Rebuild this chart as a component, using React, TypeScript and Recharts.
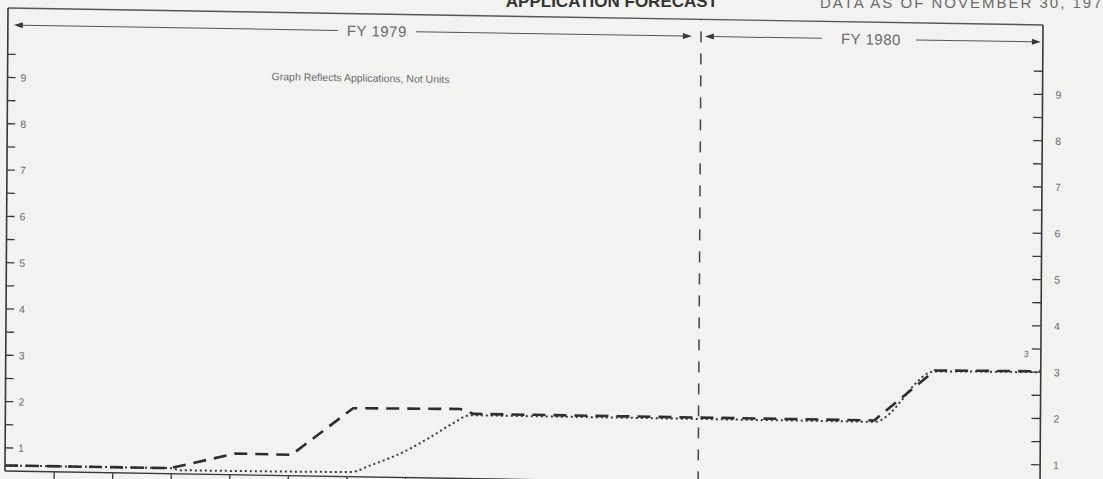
import React from 'react';
import { ComposedChart, Line, XAxis, YAxis, ReferenceLine } from 'recharts';

// Month index (0 = first bottom tick mark, 11 = start of FY 1980)
const dashedMonths = [-0.84, 1.98, 3.1, 4.05, 5.1, 6.93, 7.16, 14.0, 15.03, 16.84];
const dashedValues = [0.62, 0.62, 0.96, 0.95, 1.98, 2.0, 1.9, 1.9, 3.0, 3.02];

const dottedMonths = [-0.84, 1.98, 2.15, 5.06, 5.4, 5.96, 6.42, 6.81, 7.1, 14.0, 15.03, 16.84];
const dottedValues = [0.62, 0.62, 0.58, 0.6, 0.75, 1.05, 1.38, 1.69, 1.87, 1.87, 2.98, 3.0];

const monthTicks = [0, 1, 2, 3, 4, 5, 6, 7, 8, 9, 10, 11, 12, 13, 14, 15, 16];
const valueTicks = [1, 1.5, 2, 2.5, 3, 3.5, 4, 4.5, 5, 5.5, 6, 6.5, 7, 7.5, 8, 8.5, 9, 9.5];
const xDomain = [-0.84, 16.84];
const yDomain = [0.5, 10.5];
const fiscalBoundary = 11;

const fyLabels = ['FY 1979', 'FY 1980'];
const noteText = 'Graph Reflects Applications, Not Units';
const titleText = 'APPLICATION FORECAST';
const dateText = 'DATA AS OF NOVEMBER 30, 1978';

const dashedData = dashedMonths.map((m, i) => ({ m, v: dashedValues[i] }));
const dottedData = dottedMonths.map((m, i) => ({ m, v: dottedValues[i] }));

const FONT = '"Liberation Sans", Arial, Helvetica, sans-serif';
const INK = '#383838';
const TEXT = '#6a6a6a';

const LeftTick = (props: any) => {
  const { x, y, payload } = props;
  const v = payload.value;
  const major = Number.isInteger(v);
  return (
    <g>
      <line x1={x} y1={y} x2={x + 8} y2={y} stroke={INK} strokeWidth={1.3} />
      {major && (
        <text x={x + 13} y={y} dy="0.36em" fontSize={10.5} fill={TEXT} fontFamily={FONT}>
          {v}
        </text>
      )}
    </g>
  );
};

const RightTick = (props: any) => {
  const { x, y, payload } = props;
  const v = payload.value;
  const major = Number.isInteger(v);
  return (
    <g>
      <line x1={x - 9} y1={y} x2={x} y2={y} stroke={INK} strokeWidth={1.3} />
      {major && (
        <text x={x + 13} y={y} dy="0.36em" fontSize={10.5} fill={TEXT} fontFamily={FONT}>
          {v}
        </text>
      )}
    </g>
  );
};

const Arrow = ({ tipX, y, dir }: { tipX: number; y: number; dir: number }) => (
  <polygon
    points={`${tipX},${y} ${tipX - dir * 9},${y - 3} ${tipX - dir * 9},${y + 3}`}
    fill={INK}
  />
);

const FyOverlay = () => {
  const y = 25;
  return (
    <svg
      width={1103}
      height={479}
      style={{ position: 'absolute', left: 0, top: 0, pointerEvents: 'none' }}
    >
      {/* FY 1979 */}
      <Arrow tipX={14} y={y} dir={-1} />
      <line x1={22} y1={y} x2={338} y2={y} stroke="#555" strokeWidth={1} />
      <text x={377} y={y} dy="0.36em" textAnchor="middle" fontSize={15} fill={TEXT} fontFamily={FONT} letterSpacing={0.5}>
        {fyLabels[0]}
      </text>
      <line x1={416} y1={y} x2={684} y2={y} stroke="#555" strokeWidth={1} />
      <Arrow tipX={692} y={y} dir={1} />
      {/* FY 1980 */}
      <Arrow tipX={705} y={y} dir={-1} />
      <line x1={713} y1={y} x2={822} y2={y} stroke="#555" strokeWidth={1} />
      <text x={871} y={y} dy="0.36em" textAnchor="middle" fontSize={15} fill={TEXT} fontFamily={FONT} letterSpacing={0.5}>
        {fyLabels[1]}
      </text>
      <line x1={916} y1={y} x2={1033} y2={y} stroke="#555" strokeWidth={1} />
      <Arrow tipX={1041} y={y} dir={1} />
      {/* note */}
      <text x={272} y={72} dy="0.36em" fontSize={10.5} fill={TEXT} fontFamily={FONT}>
        {noteText}
      </text>
      <text x={1026} y={337} dy="0.36em" fontSize={9} fill={TEXT} fontFamily={FONT}>
        3
      </text>
    </svg>
  );
};

export default function App() {
  return (
    <div
      style={{
        position: 'absolute',
        left: 0,
        top: 0,
        width: 1103,
        height: 479,
        overflow: 'hidden',
        background: '#f2f2f0',
      }}
    >
      <div
        style={{
          position: 'absolute',
          left: 0,
          top: 0,
          width: 1103,
          height: 479,
          transform: 'matrix(1, 0.0164, -0.0065, 1, 0, 0)',
          transformOrigin: '8px 8px',
        }}
      >
        <ComposedChart width={1103} height={479} margin={{ top: 8, right: 0, bottom: 0, left: 0 }}>
          <XAxis
            dataKey="m"
            type="number"
            domain={xDomain}
            allowDataOverflow
            ticks={monthTicks}
            interval={0}
            height={8}
            tickSize={9}
            tickFormatter={() => ''}
            axisLine={{ stroke: INK, strokeWidth: 1.4 }}
            tickLine={{ stroke: INK, strokeWidth: 1.3 }}
          />
          <YAxis
            yAxisId="left"
            orientation="left"
            type="number"
            domain={yDomain}
            allowDataOverflow
            ticks={valueTicks}
            interval={0}
            width={8}
            tickSize={0}
            tickMargin={0}
            tickLine={false}
            axisLine={{ stroke: INK, strokeWidth: 1.6 }}
            tick={<LeftTick />}
          />
          <YAxis
            yAxisId="right"
            orientation="right"
            type="number"
            domain={yDomain}
            allowDataOverflow
            ticks={valueTicks}
            interval={0}
            width={60}
            tickSize={0}
            tickMargin={0}
            tickLine={false}
            axisLine={{ stroke: INK, strokeWidth: 1.6 }}
            tick={<RightTick />}
          />
          <ReferenceLine yAxisId="left" y={10.5} stroke="#555" strokeWidth={1.4} />
          <ReferenceLine
            yAxisId="left"
            x={fiscalBoundary}
            stroke="#444"
            strokeWidth={1.5}
            strokeDasharray="11 11"
          />
          <Line
            yAxisId="left"
            data={dottedData}
            dataKey="v"
            type="monotone"
            stroke="#3a3a3a"
            strokeWidth={2}
            strokeDasharray="2 3"
            dot={false}
            isAnimationActive={false}
          />
          <Line
            yAxisId="left"
            data={dashedData}
            dataKey="v"
            type="linear"
            stroke="#2e2e2e"
            strokeWidth={2.6}
            strokeDasharray="13 8"
            dot={false}
            isAnimationActive={false}
          />
        </ComposedChart>
        <FyOverlay />
      </div>
      <svg
        width={1103}
        height={479}
        style={{ position: 'absolute', left: 0, top: 0, pointerEvents: 'none' }}
      >
        <text x={718} y={7} textAnchor="end" fontSize={17} fontWeight="bold" fill="#333" fontFamily={FONT}>
          {titleText}
        </text>
        <text x={820} y={8} fontSize={15} fill={TEXT} fontFamily={FONT} letterSpacing={2}>
          {dateText}
        </text>
      </svg>
    </div>
  );
}
